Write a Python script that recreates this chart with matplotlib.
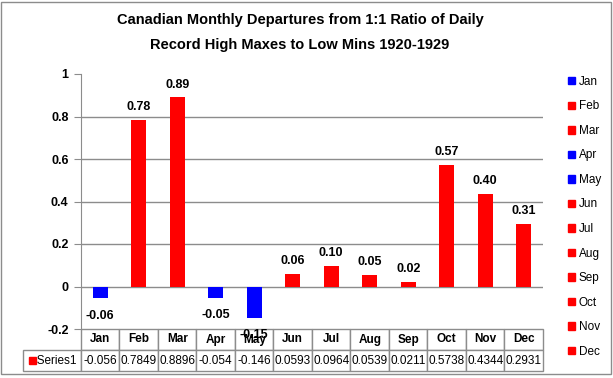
import matplotlib.pyplot as plt
import matplotlib.patches as mpatches
import numpy as np

plt.rcParams['font.family'] = ['Liberation Sans', 'DejaVu Sans']

# Data
months = ['Jan', 'Feb', 'Mar', 'Apr', 'May', 'Jun', 'Jul', 'Aug', 'Sep', 'Oct', 'Nov', 'Dec']
values = [-0.056, 0.7849, 0.8896, -0.054, -0.146, 0.0593, 0.0964, 0.0539, 0.0211, 0.5738, 0.4344, 0.2931]
bar_labels = ['-0.06', '0.78', '0.89', '-0.05', '-0.15', '0.06', '0.10', '0.05', '0.02', '0.57', '0.40', '0.31']
series_name = 'Series1'

blue = '#0000FF'
red = '#FF0000'
colors = [blue if v < 0 else red for v in values]

fig = plt.figure(figsize=(6.13, 3.78), dpi=100)
W, H = 613, 378
ax = fig.add_axes([81 / W, 1 - 329 / H, (543 - 81) / W, (329 - 74) / H])

x = np.arange(len(months))
bars = ax.bar(x, values, width=0.4, color=colors, zorder=3)

ax.set_xlim(-0.5, len(months) - 0.5)
ax.set_ylim(-0.2, 1.0)
ax.set_yticks(np.arange(-0.2, 1.01, 0.2))
ax.set_yticklabels(['-0.2', '0', '0.2', '0.4', '0.6', '0.8', '1'], fontweight='bold', fontsize=9)
ax.set_xticks([])
ax.yaxis.grid(True, color='#8c8c8c', linewidth=1, zorder=0)
ax.get_ygridlines()[-1].set_visible(False)
ax.get_ygridlines()[0].set_visible(False)
for s in ['top', 'right', 'bottom']:
    ax.spines[s].set_visible(False)
ax.spines['left'].set_color('#8c8c8c')
ax.tick_params(axis='y', color='#8c8c8c', length=5, pad=4)

for b, lab, v in zip(bars, bar_labels, values):
    if v >= 0:
        ax.annotate(lab, (b.get_x() + b.get_width() / 2, v), xytext=(0, 5),
                    textcoords='offset points', ha='center', va='bottom',
                    fontweight='bold', fontsize=9)
    else:
        ax.annotate(lab, (b.get_x() + b.get_width() / 2, v), xytext=(0, -8),
                    textcoords='offset points', ha='center', va='top',
                    fontweight='bold', fontsize=9)

# Data table under the plot
row_w = (81 - 23) / (543 - 81)
tab_h = (371 - 329) / (329 - 74)
cell_text = [[series_name] + [f'{v:g}' for v in values]]
table = ax.table(cellText=cell_text, colLabels=[''] + months,
                 colWidths=[row_w] + [1 / len(months)] * len(months),
                 bbox=[-row_w, -tab_h, 1 + row_w, tab_h], cellLoc='center')
table.auto_set_font_size(False)
for (r, c), cell in table.get_celld().items():
    cell.set_edgecolor('#8c8c8c')
    cell.set_linewidth(1)
    cell.get_text().set_fontsize(8.5)
    if r == 0:
        cell.get_text().set_fontweight('bold')
    if r == 0 and c == 0:
        cell.visible_edges = ''
    if r == 1 and c == 0:
        cell.get_text().set_text('   ' + series_name)
# red key square in the row label
sq_w = 7 / (543 - 81)
sq_h = 7 / (329 - 74)
ax.add_patch(mpatches.Rectangle((-row_w + 6 / (543 - 81), -tab_h * 0.75 - sq_h / 2), sq_w, sq_h,
                                transform=ax.transAxes, color=red, clip_on=False, zorder=5))

# Legend
handles = [mpatches.Patch(color=c, label=m) for m, c in zip(months, colors)]
fig.legend(handles=handles, loc='upper left', bbox_to_anchor=(562 / W, 1 - 70 / H),
           frameon=False, fontsize=8.5, handlelength=0.6, handleheight=0.6,
           handletextpad=0.3, labelspacing=1.06, borderpad=0)

fig.text(300 / W, 1 - 20 / H, 'Canadian Monthly Departures from 1:1 Ratio of Daily',
         ha='center', va='center', fontsize=10.5, fontweight='bold')
fig.text(300 / W, 1 - 45 / H, 'Record High Maxes to Low Mins 1920-1929',
         ha='center', va='center', fontsize=10.5, fontweight='bold')

fig.add_artist(mpatches.Rectangle((1 / W, 4 / H), 610 / W, 372 / H, transform=fig.transFigure,
                                  fill=False, edgecolor='#8c8c8c', linewidth=1))

fig.savefig('out.png', dpi=100)
